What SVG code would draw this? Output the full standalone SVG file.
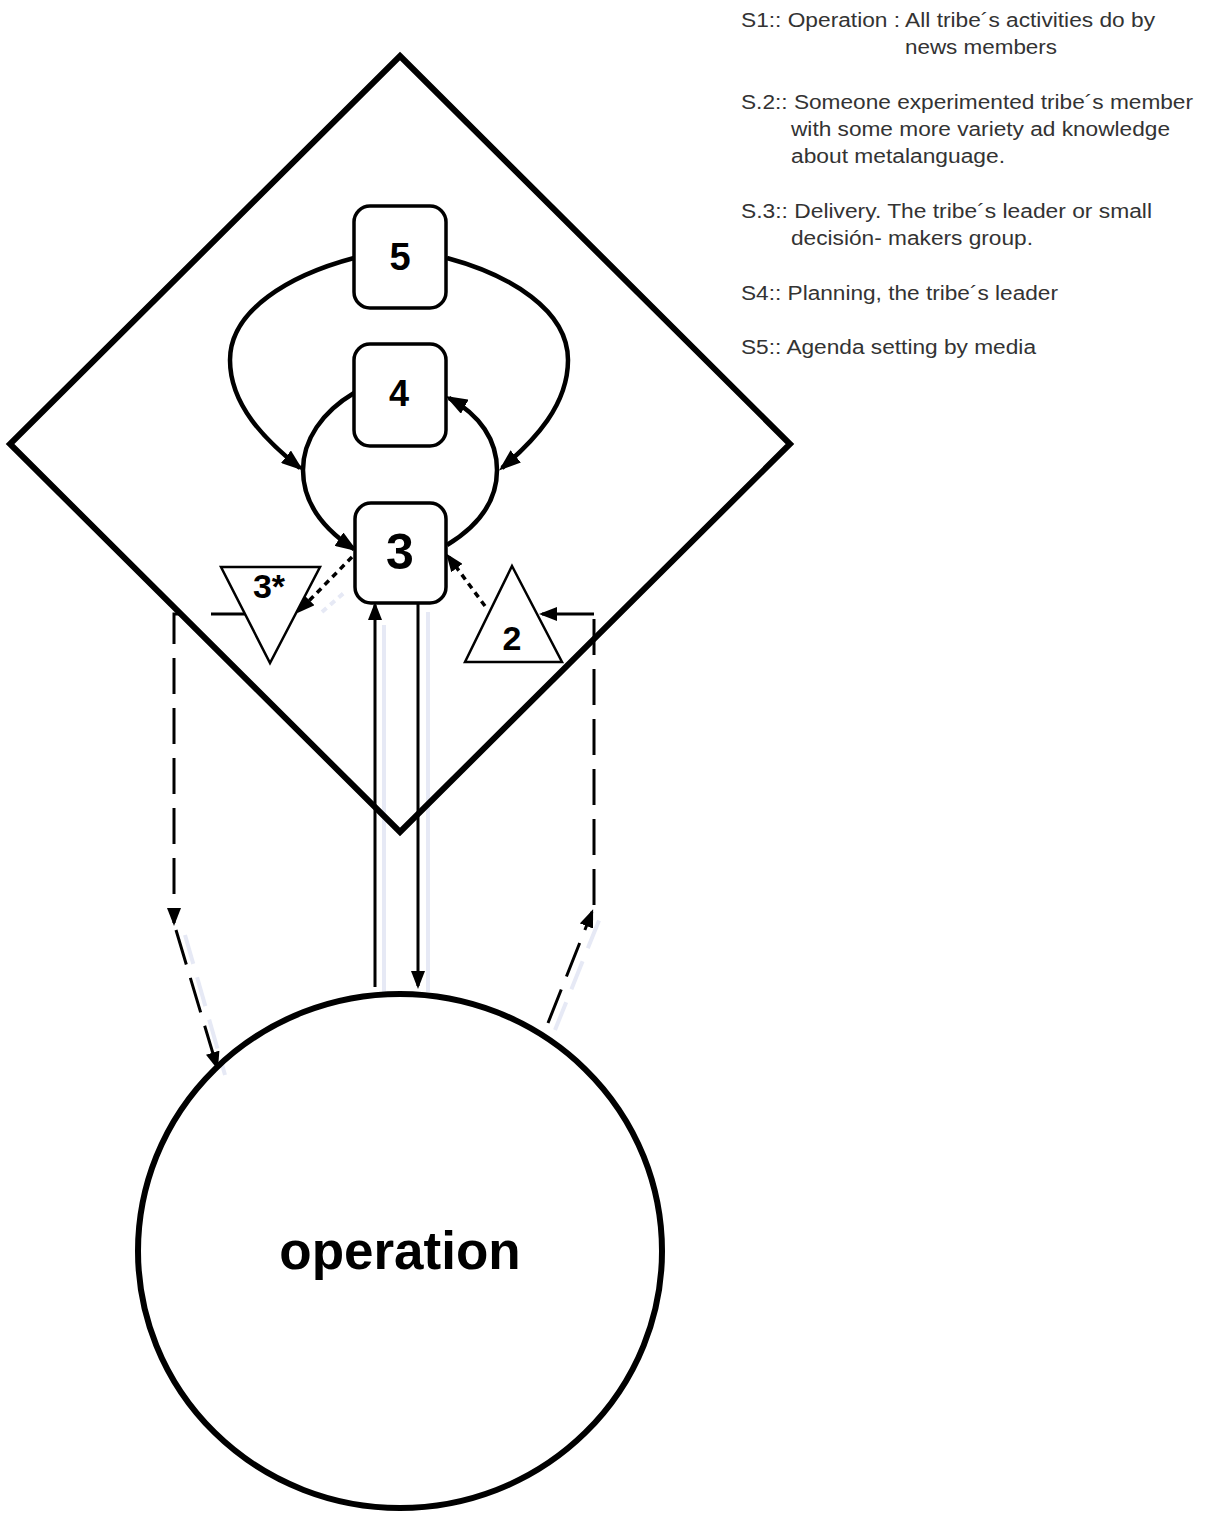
<svg xmlns="http://www.w3.org/2000/svg" width="1207" height="1516" viewBox="0 0 1207 1516">
<style>
.frame{fill:none;stroke:#000;stroke-width:6;stroke-linejoin:miter}
.box{fill:#fff;stroke:#000;stroke-width:3.5}
.tri{fill:#fff;stroke:#000;stroke-width:2.5;stroke-linejoin:miter}
.num{font-family:"Liberation Sans",Arial,sans-serif;font-weight:bold;text-anchor:middle;fill:#000}
.curve{fill:none;stroke:#000;stroke-width:4.5}
.thin{fill:none;stroke:#000;stroke-width:3}
.dash{fill:none;stroke:#000;stroke-width:3;stroke-dasharray:36 14}
.dot{fill:none;stroke:#000;stroke-width:3.5;stroke-dasharray:6 5}
.shadow{fill:none;stroke:#e6e9f5;stroke-width:4}
.legend{font-family:"Liberation Sans",Arial,sans-serif;font-size:20px;fill:#333}
</style>
<defs>
<marker id="arr" viewBox="0 0 18 14" refX="15" refY="7" markerWidth="18" markerHeight="14" markerUnits="userSpaceOnUse" orient="auto">
<path d="M0,0 L18,7 L0,14 z" fill="#000"/>
</marker>
<marker id="big" viewBox="0 0 22 16" refX="18" refY="8" markerWidth="22" markerHeight="16" markerUnits="userSpaceOnUse" orient="auto">
<path d="M0,0 L22,8 L0,16 z" fill="#000"/>
</marker>
</defs>
<rect width="1207" height="1516" fill="#fff"/>

<g id="shadows">
<line class="shadow" x1="384" y1="625" x2="384" y2="992"/>
<line class="shadow" x1="428" y1="612" x2="428" y2="992"/>
<line class="shadow" x1="322" y1="612" x2="345" y2="592" stroke-dasharray="6 5"/>
<line class="shadow" x1="185" y1="935" x2="225" y2="1075" stroke-dasharray="30 14"/>
<line class="shadow" x1="555" y1="1030" x2="600" y2="918" stroke-dasharray="30 14"/>
</g>

<g id="system-diamond">
<polygon class="frame" points="400,56 790,444 400,832 10,444"/>
</g>

<g id="operation">
<ellipse class="frame" cx="400" cy="1251" rx="262" ry="257"/>
<text class="num" x="400" y="1269" font-size="53">operation</text>
</g>

<g id="connectors">
<path class="curve" d="M354,258 C290,275 230,310 230,360 C230,405 265,440 300,468" marker-end="url(#big)"/>
<path class="curve" d="M447,258 C510,275 568,310 568,360 C568,405 535,440 502,468" marker-end="url(#big)"/>
<path class="curve" d="M354,393 C322,412 303,440 303,470 C303,505 325,530 354,549" marker-end="url(#big)"/>
<path class="curve" d="M447,545 C480,525 497,500 497,470 C497,440 480,415 449,398" marker-end="url(#big)"/>
<line class="thin" x1="375" y1="987" x2="375" y2="605" marker-end="url(#arr)"/>
<line class="thin" x1="418" y1="603" x2="418" y2="986" marker-end="url(#arr)"/>
<line class="dot" x1="352" y1="557" x2="299" y2="611" marker-end="url(#arr)"/>
<line class="dot" x1="485" y1="606" x2="448" y2="556" marker-end="url(#arr)"/>
<line class="thin" x1="211" y1="614" x2="245" y2="614"/>
<path class="dash" d="M180,614 H174 V923" marker-end="url(#arr)"/>
<path class="dash" d="M176,930 L217,1067" marker-end="url(#arr)"/>
<path class="dash" d="M548,1023 L592,912" marker-end="url(#arr)"/>
<path class="dash" d="M594,905 V614"/>
<path class="thin" d="M594,614 H542" marker-end="url(#arr)"/>
</g>

<g id="s5">
<rect class="box" x="354" y="206" width="92" height="102" rx="16"/>
<text class="num" x="400" y="270" font-size="38">5</text>
</g>
<g id="s4">
<rect class="box" x="354" y="344" width="92" height="102" rx="16"/>
<text class="num" x="399" y="406" font-size="36">4</text>
</g>
<g id="s3">
<rect class="box" x="355" y="503" width="91" height="100" rx="16"/>
<text class="num" x="400" y="569" font-size="50">3</text>
</g>
<g id="s3star">
<polygon class="tri" points="221,567 320,567 270,663"/>
<text class="num" x="269" y="598" font-size="34">3*</text>
</g>
<g id="s2">
<polygon class="tri" points="512,566 562,662 465,662"/>
<text class="num" x="512" y="650" font-size="34">2</text>
</g>

<g id="legend">
<text class="legend" x="741" y="27" textLength="414" lengthAdjust="spacingAndGlyphs">S1:: Operation : All tribe´s activities do by</text>
<text class="legend" x="905" y="54" textLength="152" lengthAdjust="spacingAndGlyphs">news members</text>
<text class="legend" x="741" y="109" textLength="452" lengthAdjust="spacingAndGlyphs">S.2:: Someone experimented tribe´s member</text>
<text class="legend" x="791" y="136" textLength="379" lengthAdjust="spacingAndGlyphs">with some more variety ad knowledge</text>
<text class="legend" x="791" y="163" textLength="214" lengthAdjust="spacingAndGlyphs">about metalanguage.</text>
<text class="legend" x="741" y="218" textLength="411" lengthAdjust="spacingAndGlyphs">S.3:: Delivery. The tribe´s leader or small</text>
<text class="legend" x="791" y="245" textLength="242" lengthAdjust="spacingAndGlyphs">decisión- makers group.</text>
<text class="legend" x="741" y="300" textLength="317" lengthAdjust="spacingAndGlyphs">S4:: Planning, the tribe´s leader</text>
<text class="legend" x="741" y="354" textLength="295" lengthAdjust="spacingAndGlyphs">S5:: Agenda setting by media</text>
</g>
</svg>
